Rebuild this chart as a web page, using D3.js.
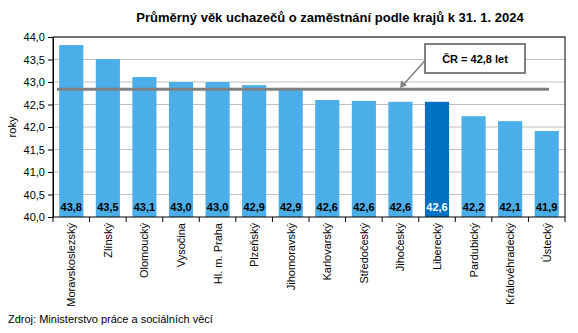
<!DOCTYPE html>
<html><head><meta charset="utf-8">
<script src="https://cdn.jsdelivr.net/npm/d3@7"></script>
<style>body{margin:0;background:#fff}svg{font-family:"Liberation Sans",Arial,sans-serif}</style>
</head><body><svg id="c" width="578" height="333"></svg>
<script>
const categories = ["Moravskoslezský","Zlínský","Olomoucký","Vysočina","Hl. m. Praha","Plzeňský","Jihomoravský","Karlovarský","Středočeský","Jihočeský","Liberecký","Pardubický","Královéhradecký","Ústecký"];
const values = [43.82,43.51,43.11,43.0,43.0,42.93,42.87,42.6,42.58,42.56,42.56,42.24,42.13,41.91];
const labels = ["43,8","43,5","43,1","43,0","43,0","42,9","42,9","42,6","42,6","42,6","42,6","42,2","42,1","41,9"];
const highlight = "Liberecký";
const avg = 42.84;
const avgLabel = "ČR = 42,8 let";
const yTicks = [40.0,40.5,41.0,41.5,42.0,42.5,43.0,43.5,44.0];
const title = "Průměrný věk uchazečů o zaměstnání podle krajů k 31. 1. 2024";
const source = "Zdroj: Ministerstvo práce a sociálních věcí";

const svg = d3.select("#c");
const L=53,R=565,T=37,B=217;
const x = d3.scaleBand().domain(categories).range([L,R]).paddingInner(0.34).paddingOuter(0.17);
const y = d3.scaleLinear().domain([40,44]).range([B,T]);
const fmt = d=>d3.format(".1f")(d).replace(".",",");

svg.append("text").attr("x",330).attr("y",22).attr("text-anchor","middle").attr("font-weight","bold").attr("font-size",13).text(title);

// grid
svg.append("g").selectAll("line").data(yTicks.slice(1)).join("line")
  .attr("x1",L).attr("x2",R).attr("y1",d=>y(d)).attr("y2",d=>y(d)).attr("stroke","#c0c0c0").attr("stroke-width",1);

// bars
svg.append("g").selectAll("rect").data(categories).join("rect")
  .attr("x",d=>x(d)).attr("width",x.bandwidth())
  .attr("y",(d,i)=>y(values[i])).attr("height",(d,i)=>B-y(values[i]))
  .attr("fill",d=>d===highlight?"#0070C0":"#4BAEE8");

// bar labels
svg.append("g").selectAll("text").data(categories).join("text")
  .attr("x",d=>x(d)+x.bandwidth()/2).attr("y",B-6).attr("text-anchor","middle")
  .attr("font-size",11).attr("font-weight","bold").attr("fill",d=>d===highlight?"#fff":"#000")
  .text((d,i)=>labels[i]);

// average line
svg.append("line").attr("x1",L+4).attr("x2",R-16).attr("y1",y(avg)).attr("y2",y(avg)).attr("stroke","#808080").attr("stroke-width",3);

// frame
svg.append("rect").attr("x",L).attr("y",T).attr("width",R-L).attr("height",B-T).attr("fill","none").attr("stroke","#000").attr("stroke-width",1);

// y axis
const ya = svg.append("g").attr("transform",`translate(${L},0)`).call(d3.axisLeft(y).tickValues(yTicks).tickFormat(fmt).tickSize(5).tickSizeOuter(0));
ya.selectAll("text").attr("font-size",11).attr("fill","#000").attr("font-family","Liberation Sans, Arial, sans-serif");
ya.selectAll("line").attr("stroke","#000");
ya.select(".domain").attr("stroke","#000");

// x axis ticks at band boundaries
const step = x.step();
const bounds = d3.range(categories.length+1).map(i=>L + (R-L)*i/categories.length);
svg.append("g").selectAll("line").data(bounds).join("line")
  .attr("x1",d=>d).attr("x2",d=>d).attr("y1",B).attr("y2",B+5).attr("stroke","#000");
svg.append("g").selectAll("text").data(categories).join("text")
  .attr("transform",d=>`translate(${x(d)+x.bandwidth()/2+4},${B+6}) rotate(-90)`)
  .attr("text-anchor","end").attr("font-size",11).text(d=>d);

// y label
svg.append("text").attr("transform","translate(16,127) rotate(-90)").attr("text-anchor","middle").attr("font-size",11).text("roky");

// callout
const bx=425,by=44,bw=100,bh=29;
svg.append("line").attr("x1",bx+1).attr("y1",by+bh/2+1).attr("x2",402).attr("y2",y(avg)-3).attr("stroke","#808080").attr("stroke-width",1.5);
svg.append("path").attr("d",`M400,${y(avg)-1} l1,-8 l6,5 z`).attr("fill","#808080");
svg.append("rect").attr("x",bx).attr("y",by).attr("width",bw).attr("height",bh).attr("fill","#fff").attr("stroke","#808080").attr("stroke-width",2);
svg.append("text").attr("x",bx+bw/2).attr("y",by+bh/2+4).attr("text-anchor","middle").attr("font-size",11).attr("font-weight","bold").text(avgLabel);

svg.append("text").attr("x",8).attr("y",323).attr("font-size",11).text(source);
</script></body></html>
